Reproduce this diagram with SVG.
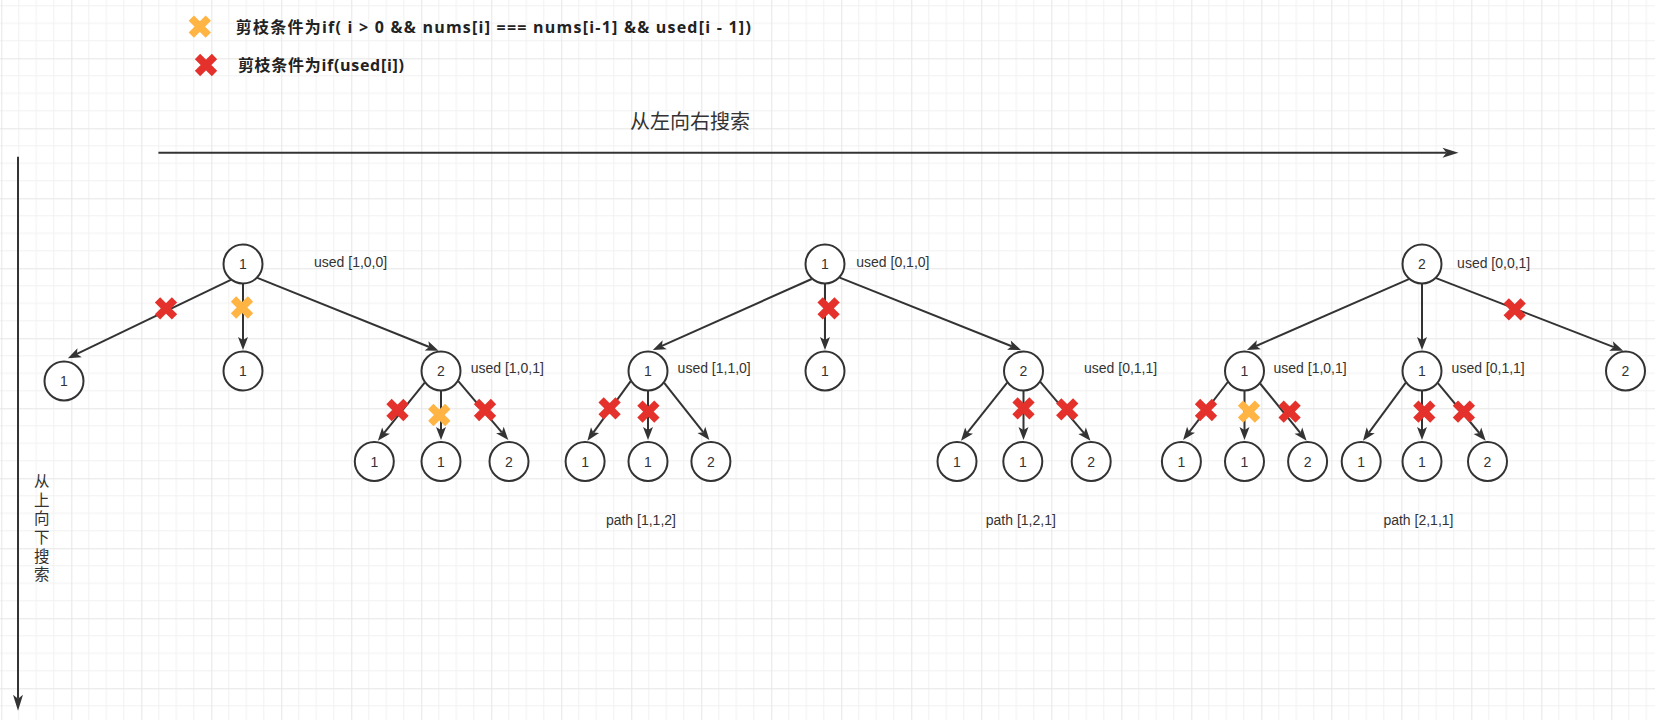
<svg xmlns="http://www.w3.org/2000/svg" width="1655" height="720" viewBox="0 0 1655 720">
<defs>
<pattern id="grid" patternUnits="userSpaceOnUse" x="1.3" y="-11.7" width="70" height="70">
<path d="M17.5,0V70M35,0V70M52.5,0V70M0,17.5H70M0,35H70M0,52.5H70" stroke="#f1f1f1" stroke-width="1" fill="none"/>
<path d="M0.5,0V70M0,0.5H70" stroke="#e6e6e6" stroke-width="1" fill="none"/>
</pattern>
<marker id="arr" markerUnits="userSpaceOnUse" markerWidth="13" markerHeight="10" refX="3" refY="5" orient="auto" overflow="visible">
<path d="M0,0L13,5L0,10L3,5Z" fill="#333"/>
</marker>
<marker id="arrL" markerUnits="userSpaceOnUse" markerWidth="16" markerHeight="10" refX="4" refY="5" orient="auto" overflow="visible">
<path d="M0,0L16,5L0,10L4,5Z" fill="#333"/>
</marker>
<g id="xred"><path d="M-8.5,-8.5L8.5,8.5M8.5,-8.5L-8.5,8.5" stroke="#E4312B" stroke-width="7.5" fill="none"/></g>
<g id="xorg"><path d="M-8.5,-8.5L8.5,8.5M8.5,-8.5L-8.5,8.5" stroke="#FFB443" stroke-width="7.5" fill="none"/></g>
</defs>
<style>
text{font-family:"Liberation Sans","Noto Sans CJK SC",sans-serif;fill:#333}
.n circle{fill:#fff;stroke:#333;stroke-width:2}
.n text{font-size:14px;text-anchor:middle}
.lbl{font-size:14px}
.leg{font-family:"Open Sans","Noto Sans CJK SC",sans-serif;font-size:16px;font-weight:bold;fill:#222}
.cjk{font-family:"Noto Sans CJK SC",sans-serif}
#edges line{stroke:#333;stroke-width:2;marker-end:url(#arr)}
#axes line{stroke:#333;stroke-width:2;marker-end:url(#arrL)}
</style>
<rect width="1655" height="720" fill="#fff"/>
<rect width="1655" height="720" fill="url(#grid)"/>

<g id="legend">
<use href="#xorg" x="199.8" y="26.7"/>
<text class="leg" x="235.8" y="32.5" textLength="515" lengthAdjust="spacing">剪枝条件为if( i &gt; 0 &amp;&amp; nums[i] === nums[i-1] &amp;&amp; used[i - 1])</text>
<use href="#xred" x="206" y="65"/>
<text class="leg" x="237.9" y="70.8" textLength="166" lengthAdjust="spacing">剪枝条件为if(used[i])</text>
</g>

<g id="axes">
<line x1="158.4" y1="152.7" x2="1446.5" y2="152.7"/>
<line x1="18" y1="156.7" x2="18" y2="698.7"/>
</g>
<text id="lr-label" class="cjk" x="630" y="129" font-size="20">从左向右搜索</text>
<text id="tb-label" class="cjk" x="41.7" y="473.5" font-size="15.5" writing-mode="vertical-rl" letter-spacing="3.1">从上向下搜索</text>

<g id="edges">
<line x1="230.8" y1="279.8" x2="76.91" y2="353.96"/>
<line x1="243" y1="284" x2="243" y2="340"/>
<line x1="257.4" y1="277.9" x2="429.32" y2="346.97"/>
<line x1="424.7" y1="382.6" x2="384.17" y2="432.91"/>
<line x1="441" y1="391" x2="441" y2="430"/>
<line x1="458.3" y1="381.1" x2="501.83" y2="432.38"/>
<line x1="811.7" y1="279" x2="661.93" y2="345.92"/>
<line x1="825" y1="284" x2="825" y2="340"/>
<line x1="839.7" y1="277.6" x2="1011.71" y2="346.29"/>
<line x1="630.7" y1="381.1" x2="593.28" y2="432.61"/>
<line x1="648" y1="391" x2="648" y2="430"/>
<line x1="664.2" y1="382.8" x2="703.2" y2="432.15"/>
<line x1="1007.2" y1="382.6" x2="967.22" y2="432.87"/>
<line x1="1023.5" y1="391" x2="1023.5" y2="430"/>
<line x1="1040.3" y1="381.9" x2="1084.01" y2="433.09"/>
<line x1="1408.9" y1="279.1" x2="1256.06" y2="345.99"/>
<line x1="1422" y1="284" x2="1422" y2="340"/>
<line x1="1436.1" y1="278.1" x2="1613.88" y2="347.08"/>
<line x1="1227.8" y1="382" x2="1189.2" y2="432.08"/>
<line x1="1244.5" y1="391" x2="1244.5" y2="430"/>
<line x1="1260.1" y1="383.5" x2="1300.29" y2="432.94"/>
<line x1="1405.8" y1="382.7" x2="1368.94" y2="432.65"/>
<line x1="1422" y1="391" x2="1422" y2="430"/>
<line x1="1437.9" y1="383.2" x2="1479.31" y2="433.01"/>
</g>

<g id="t1-root" class="n"><circle cx="243" cy="264" r="19.5"/><text x="243" y="269">1</text></g>
<g id="t1-a" class="n"><circle cx="64" cy="381" r="19.5"/><text x="64" y="386">1</text></g>
<g id="t1-b" class="n"><circle cx="243" cy="371" r="19.5"/><text x="243" y="376">1</text></g>
<g id="t1-c" class="n"><circle cx="441" cy="371" r="19.5"/><text x="441" y="376">2</text></g>
<g id="t1-c1" class="n"><circle cx="374.3" cy="461.5" r="19.5"/><text x="374.3" y="466.5">1</text></g>
<g id="t1-c2" class="n"><circle cx="441" cy="461.5" r="19.5"/><text x="441" y="466.5">1</text></g>
<g id="t1-c3" class="n"><circle cx="509" cy="461.5" r="19.5"/><text x="509" y="466.5">2</text></g>

<g id="t2-root" class="n"><circle cx="825" cy="264" r="19.5"/><text x="825" y="269">1</text></g>
<g id="t2-a" class="n"><circle cx="648" cy="371" r="19.5"/><text x="648" y="376">1</text></g>
<g id="t2-b" class="n"><circle cx="825" cy="371" r="19.5"/><text x="825" y="376">1</text></g>
<g id="t2-c" class="n"><circle cx="1023.5" cy="371" r="19.5"/><text x="1023.5" y="376">2</text></g>
<g id="t2-a1" class="n"><circle cx="585.1" cy="461.5" r="19.5"/><text x="585.1" y="466.5">1</text></g>
<g id="t2-a2" class="n"><circle cx="648" cy="461.5" r="19.5"/><text x="648" y="466.5">1</text></g>
<g id="t2-a3" class="n"><circle cx="710.9" cy="461.5" r="19.5"/><text x="710.9" y="466.5">2</text></g>
<g id="t2-c1" class="n"><circle cx="957" cy="461.5" r="19.5"/><text x="957" y="466.5">1</text></g>
<g id="t2-c2" class="n"><circle cx="1022.8" cy="461.5" r="19.5"/><text x="1022.8" y="466.5">1</text></g>
<g id="t2-c3" class="n"><circle cx="1091.2" cy="461.5" r="19.5"/><text x="1091.2" y="466.5">2</text></g>

<g id="t3-root" class="n"><circle cx="1422" cy="264" r="19.5"/><text x="1422" y="269">2</text></g>
<g id="t3-a" class="n"><circle cx="1244.5" cy="371" r="19.5"/><text x="1244.5" y="376">1</text></g>
<g id="t3-b" class="n"><circle cx="1422" cy="371" r="19.5"/><text x="1422" y="376">1</text></g>
<g id="t3-c" class="n"><circle cx="1625.5" cy="371" r="19.5"/><text x="1625.5" y="376">2</text></g>
<g id="t3-a1" class="n"><circle cx="1181.4" cy="461.5" r="19.5"/><text x="1181.4" y="466.5">1</text></g>
<g id="t3-a2" class="n"><circle cx="1244.5" cy="461.5" r="19.5"/><text x="1244.5" y="466.5">1</text></g>
<g id="t3-a3" class="n"><circle cx="1307.6" cy="461.5" r="19.5"/><text x="1307.6" y="466.5">2</text></g>
<g id="t3-b1" class="n"><circle cx="1361.2" cy="461.5" r="19.5"/><text x="1361.2" y="466.5">1</text></g>
<g id="t3-b2" class="n"><circle cx="1422" cy="461.5" r="19.5"/><text x="1422" y="466.5">1</text></g>
<g id="t3-b3" class="n"><circle cx="1487.5" cy="461.5" r="19.5"/><text x="1487.5" y="466.5">2</text></g>

<g id="labels">
<text class="lbl" x="314" y="267.3">used [1,0,0]</text>
<text class="lbl" x="470.7" y="373.3">used [1,0,1]</text>
<text class="lbl" x="856.3" y="267.3">used [0,1,0]</text>
<text class="lbl" x="677.6" y="373.3">used [1,1,0]</text>
<text class="lbl" x="1084" y="373.3">used [0,1,1]</text>
<text class="lbl" x="605.9" y="525">path [1,1,2]</text>
<text class="lbl" x="985.8" y="525">path [1,2,1]</text>
<text class="lbl" x="1457.1" y="268.3">used [0,0,1]</text>
<text class="lbl" x="1273.5" y="373.3">used [1,0,1]</text>
<text class="lbl" x="1451.6" y="373.3">used [0,1,1]</text>
<text class="lbl" x="1383.4" y="525">path [2,1,1]</text>
</g>

<g id="crosses">
<use href="#xred" x="166" y="308.3"/>
<use href="#xorg" x="242" y="307.5"/>
<use href="#xred" x="397.5" y="410"/>
<use href="#xorg" x="439.3" y="415"/>
<use href="#xred" x="485" y="410"/>
<use href="#xred" x="828.6" y="308.3"/>
<use href="#xred" x="609.6" y="408.3"/>
<use href="#xred" x="648.4" y="411.7"/>
<use href="#xred" x="1023.5" y="408.3"/>
<use href="#xred" x="1067.2" y="409.3"/>
<use href="#xred" x="1514.7" y="309.3"/>
<use href="#xred" x="1206" y="410"/>
<use href="#xorg" x="1249" y="411.7"/>
<use href="#xred" x="1289.6" y="411.7"/>
<use href="#xred" x="1424.3" y="411.7"/>
<use href="#xred" x="1463.9" y="411.7"/>
</g>
</svg>
